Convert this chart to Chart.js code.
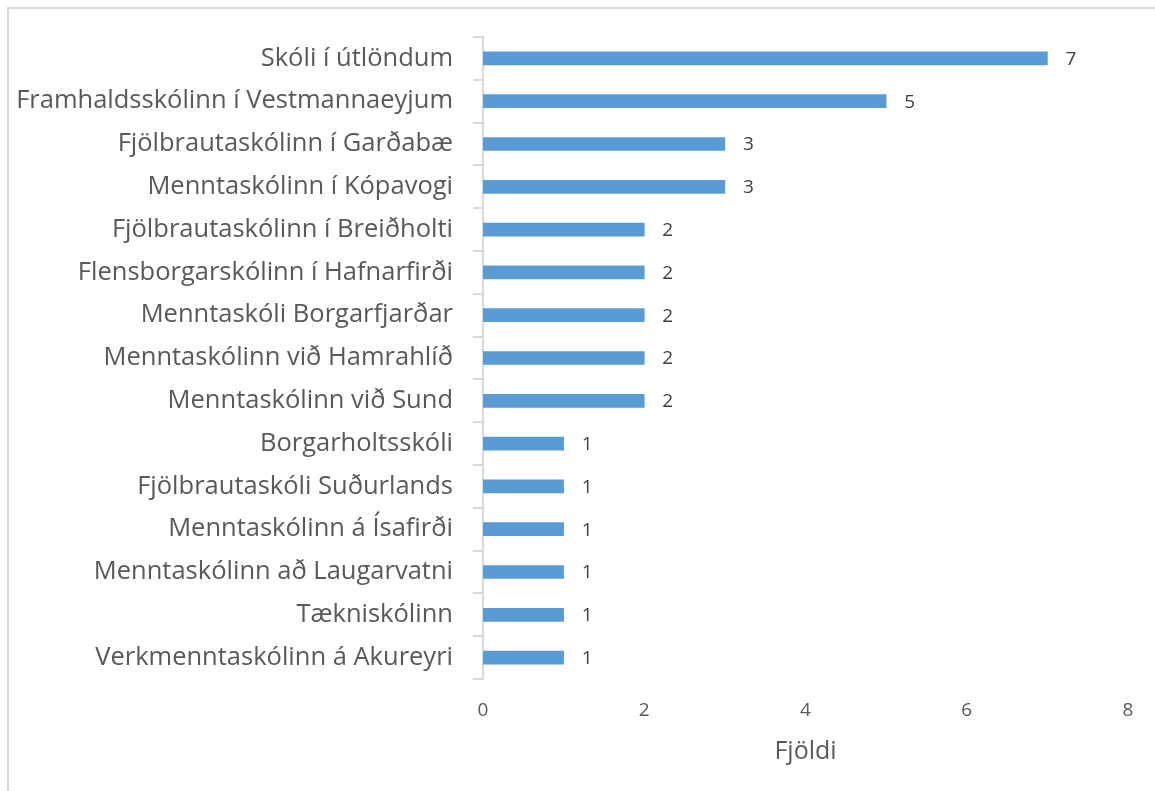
<!DOCTYPE html>
<html>
<head>
<meta charset="utf-8">
<script src="https://cdn.jsdelivr.net/npm/chart.js@4"></script>
<style>
html, body { margin: 0; padding: 0; background: #fff; }
#wrap { position: relative; width: 1155px; height: 791px; overflow: hidden; }
#frame { position: absolute; left: 7px; top: 7px; width: 1160px; height: 800px; border: 2px solid #d9d9d9; box-sizing: border-box; }
canvas { position: absolute; left: 0; top: 0; }
</style>
</head>
<body>
<div id="wrap">
<div id="frame"></div>
<canvas id="barChart" width="1155" height="791"></canvas>
</div>
<script>
// data
var schools = [
  "Skóli í útlöndum",
  "Framhaldsskólinn í Vestmannaeyjum",
  "Fjölbrautaskólinn í Garðabæ",
  "Menntaskólinn í Kópavogi",
  "Fjölbrautaskólinn í Breiðholti",
  "Flensborgarskólinn í Hafnarfirði",
  "Menntaskóli Borgarfjarðar",
  "Menntaskólinn við Hamrahlíð",
  "Menntaskólinn við Sund",
  "Borgarholtsskóli",
  "Fjölbrautaskóli Suðurlands",
  "Menntaskólinn á Ísafirði",
  "Menntaskólinn að Laugarvatni",
  "Tækniskólinn",
  "Verkmenntaskólinn á Akureyri"
];
var counts = [7, 5, 3, 3, 2, 2, 2, 2, 2, 1, 1, 1, 1, 1, 1];
var axisTitle = "Fjöldi";

// value labels at the bar ends
var barLabels = {
  id: 'barLabels',
  afterDatasetsDraw: function(chart) {
    var ctx = chart.ctx;
    var meta = chart.getDatasetMeta(0);
    ctx.save();
    ctx.font = '19px "Open Sans"';
    ctx.fillStyle = '#404040';
    ctx.textAlign = 'left';
    ctx.textBaseline = 'middle';
    meta.data.forEach(function(bar, i) {
      ctx.fillText(counts[i], bar.x + 18, bar.y + 1);
    });
    ctx.restore();
  }
};

var ctxB = document.getElementById("barChart").getContext('2d');
var myBarChart = new Chart(ctxB, {
  type: 'bar',
  data: {
    labels: schools,
    datasets: [{
      label: axisTitle,
      data: counts,
      backgroundColor: '#5b9bd5',
      borderWidth: 0,
      barThickness: 13
    }]
  },
  options: {
    indexAxis: 'y',
    responsive: false,
    animation: false,
    layout: { padding: { left: 0, right: 27, top: 37, bottom: 0 } },
    plugins: {
      legend: { display: false },
      tooltip: { enabled: false }
    },
    scales: {
      x: {
        min: 0,
        max: 8,
        afterFit: function(scale) { scale.height = 112; },
        ticks: { stepSize: 2, color: '#595959', font: { family: 'Open Sans', size: 19 }, padding: 12 },
        grid: { display: false },
        border: { display: false },
        title: { display: true, text: axisTitle, color: '#595959', font: { family: 'Open Sans', size: 25 }, padding: { top: 0, bottom: 24 } }
      },
      y: {
        afterFit: function(scale) { scale.width = 483; },
        ticks: { color: '#595959', font: { family: 'Open Sans', size: 25.5 }, padding: 20, autoSkip: false },
        grid: { drawOnChartArea: false, drawTicks: true, tickLength: 10, color: '#d9d9d9', lineWidth: 2 },
        border: { display: true, color: '#d9d9d9', width: 2 }
      }
    }
  },
  plugins: [barLabels]
});
</script>
</body>
</html>
